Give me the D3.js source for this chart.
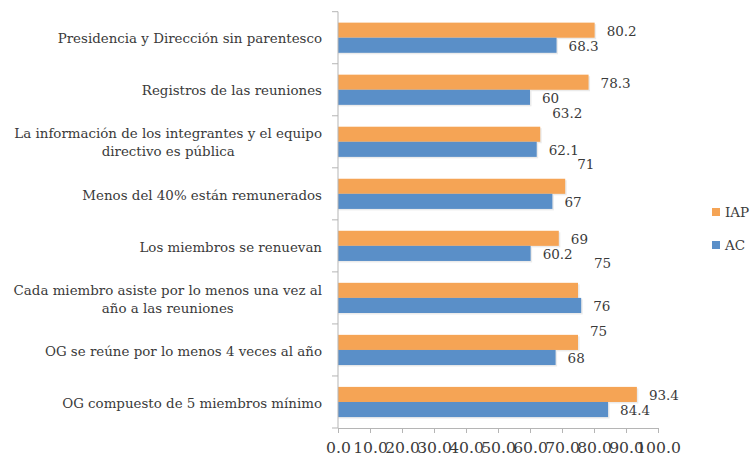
<!DOCTYPE html>
<html>
<head>
<meta charset="utf-8">
<script src="https://cdn.jsdelivr.net/npm/d3@7"></script>
<style>
  html, body { margin: 0; padding: 0; background: #fff; }
  svg { display: block; }
  text { font-family: "DejaVu Serif", serif; fill: #3a3a3a; }
</style>
</head>
<body>
<svg id="chart" width="753" height="458"></svg>
<script>
// ---- data (top to bottom) ----
const categories = [
  ["Presidencia y Dirección sin parentesco"],
  ["Registros de las reuniones"],
  ["La información de los integrantes y el equipo", "directivo es pública"],
  ["Menos del 40% están remunerados"],
  ["Los miembros se renuevan"],
  ["Cada miembro asiste por lo menos una vez al", "año a las reuniones"],
  ["OG se reúne por lo menos 4 veces al año"],
  ["OG compuesto de 5 miembros mínimo"]
];
const seriesNames = ["IAP", "AC"];
const iapValues = [80.2, 78.3, 63.2, 71, 69, 75, 75, 93.4];
const acValues  = [68.3, 60, 62.1, 67, 60.2, 76, 68, 84.4];
const tickValues = [0, 10, 20, 30, 40, 50, 60, 70, 80, 90, 100];
// label nudges (pixels) reproducing the displaced IAP labels of the original
const iapLabelDy = [0, 0, -22, -23, 0, -28, -12, 0];
const iapLabelDx = [0, 0, 0, 0, 0, 4, 0, 0];

const colors = { IAP: "#F5A455", AC: "#5A8FC8" };

// ---- layout ----
const svg = d3.select("#chart");
const plot = { left: 338, right: 658, top: 11.7, bottom: 428 };
const catFont = 13.4, valFont = 13.5, tickFont = 15.6;

const x = d3.scaleLinear().domain([0, 100]).range([plot.left, plot.right]);
const idx = d3.range(categories.length);
const y0 = d3.scaleBand().domain(idx).range([plot.top, plot.bottom])
  .paddingInner(0.42).paddingOuter(0.21);
const y1 = d3.scaleBand().domain(seriesNames).range([0, y0.bandwidth()]);

const data = idx.map(i => ({ i, IAP: iapValues[i], AC: acValues[i] }));

// bars
const groups = svg.append("g").selectAll("g").data(data).join("g")
  .attr("transform", d => `translate(0,${y0(d.i)})`);

groups.selectAll("rect.shadow").data(d => seriesNames.map(s => ({ s, v: d[s] })))
  .join("rect").attr("class", "shadow")
  .attr("x", x(0)).attr("y", d => y1(d.s) + 1.5)
  .attr("width", d => x(d.v) - x(0) + 1.5).attr("height", y1.bandwidth())
  .attr("fill", "#000").attr("opacity", 0.08);

groups.selectAll("rect.bar").data(d => seriesNames.map(s => ({ s, v: d[s] })))
  .join("rect").attr("class", "bar")
  .attr("x", x(0)).attr("y", d => y1(d.s))
  .attr("width", d => x(d.v) - x(0)).attr("height", y1.bandwidth())
  .attr("fill", d => colors[d.s]);

// value labels
groups.selectAll("text.val").data(d => seriesNames.map(s => ({ s, v: d[s], i: d.i })))
  .join("text").attr("class", "val")
  .attr("x", d => x(d.v) + 12 + (d.s === "IAP" ? iapLabelDx[d.i] : 0))
  .attr("y", d => y1(d.s) + y1.bandwidth() / 2 + 1 + (d.s === "IAP" ? iapLabelDy[d.i] : 0))
  .attr("dy", "0.35em")
  .attr("font-size", valFont)
  .text(d => String(d.v));

// axes
const axisColor = "#b5b5b5";
const step = y0.step();
const gy = svg.append("g");
gy.append("line").attr("x1", plot.left).attr("x2", plot.left)
  .attr("y1", plot.top).attr("y2", plot.bottom).attr("stroke", axisColor);
gy.selectAll("line.tick").data(d3.range(categories.length + 1)).join("line")
  .attr("class", "tick")
  .attr("x1", plot.left - 6).attr("x2", plot.left)
  .attr("y1", k => plot.top + k * step).attr("y2", k => plot.top + k * step)
  .attr("stroke", axisColor);

// category labels
const catG = svg.append("g");
categories.forEach((lines, i) => {
  const cy = y0(i) + y0.bandwidth() / 2 + 1;
  const lh = 18;
  const t = catG.append("text").attr("font-size", catFont).attr("text-anchor", "end");
  if (lines.length === 1) {
    t.append("tspan").attr("x", 322).attr("y", cy).attr("dy", "0.35em").text(lines[0]);
  } else {
    // two lines: block right-aligned, second line centred on the first
    const tmp = catG.append("text").attr("font-size", catFont).text(lines[0]);
    const w = tmp.node().getComputedTextLength();
    tmp.remove();
    t.append("tspan").attr("x", 322).attr("y", cy - lh / 2).attr("dy", "0.35em").text(lines[0]);
    t.append("tspan").attr("x", 322 - w / 2).attr("y", cy + lh / 2).attr("dy", "0.35em")
      .attr("text-anchor", "middle").text(lines[1]);
  }
});

const gx = svg.append("g").attr("transform", `translate(0,${plot.bottom})`)
  .call(d3.axisBottom(x).tickValues(tickValues).tickFormat(d3.format(".1f"))
    .tickSize(5).tickSizeOuter(0));
gx.select(".domain").attr("stroke", axisColor);
gx.selectAll(".tick line").attr("stroke", axisColor);
gx.selectAll(".tick text").attr("font-size", tickFont).attr("font-family", "DejaVu Serif")
  .attr("fill", "#3a3a3a").attr("y", 14);

// legend
const legend = svg.append("g");
seriesNames.forEach((s, k) => {
  const ly = 212 + k * 33;
  legend.append("rect").attr("x", 712).attr("y", ly - 4).attr("width", 8).attr("height", 8)
    .attr("fill", colors[s]);
  legend.append("text").attr("x", 725).attr("y", ly).attr("dy", "0.35em")
    .attr("font-size", valFont).text(s);
});
</script>
</body>
</html>
